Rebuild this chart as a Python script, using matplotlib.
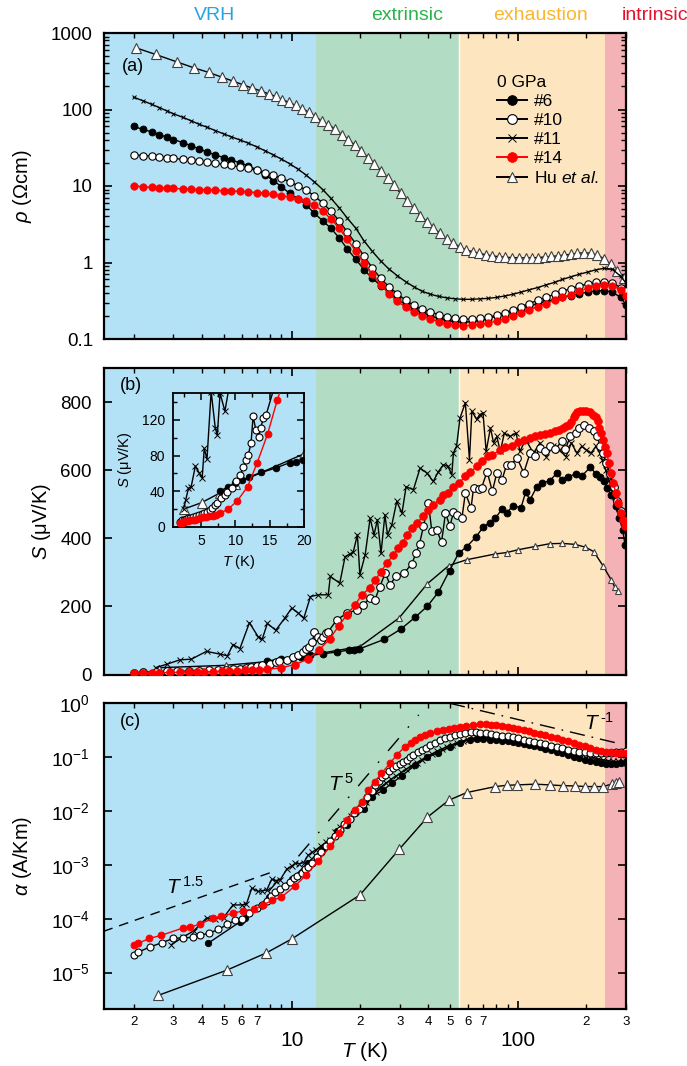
"""
Thermoelectric transport of the samples at 0 GPa: rho, S and alpha vs T
"""

import matplotlib
import matplotlib.pyplot as plt
from matplotlib.lines import Line2D
from matplotlib.ticker import (FixedFormatter, FixedLocator, FuncFormatter,
                               LogLocator, MultipleLocator, NullFormatter,
                               NullLocator)

matplotlib.use("Agg")

plt.rcParams['font.family'] = ['Liberation Sans', 'DejaVu Sans']
plt.rcParams['mathtext.fontset'] = 'custom'
plt.rcParams['mathtext.rm'] = 'Liberation Sans'
plt.rcParams['mathtext.it'] = 'Liberation Sans:italic'
plt.rcParams['mathtext.bf'] = 'Liberation Sans:bold'

# --------------------------------------------------
# Regions
# --------------------------------------------------
region_names = ['VRH', 'extrinsic', 'exhaustion', 'intrinsic']
region_edges = [1.48, 12.8, 55, 242, 300]
region_fill = ['#b3e1f6', '#b2ddc4', '#fde6bf', '#f5b2b6']
region_text = ['#22a5e2', '#2bb24c', '#fbb62e', '#e8112d']
region_label_x = [215, 407, 540, 655]

# --------------------------------------------------
# (a) resistivity
# --------------------------------------------------
Ta = [2.0, 2.2, 2.4, 2.6, 2.8, 3.0, 3.3, 3.6, 3.9, 4.2,
      4.6, 5.0, 5.4, 5.9, 6.4, 7.0, 7.6, 8.3, 9.0, 9.8,
      10.7, 11.6, 12.6, 13.7, 14.9, 16.2, 17.6, 19.2, 20.9, 22.7,
      24.7, 26.9, 29.3, 31.9, 34.7, 37.7, 41.0, 44.6, 48.5, 52.8,
      57.4, 62.4, 67.9, 73.9, 80.4, 87.4, 95.1, 103, 112, 122,
      133, 145, 157, 171, 186, 203, 220, 240, 261, 284,
      300]
rho_6 = [60, 55, 51, 47, 43.5, 40.5, 37, 33.5, 30.5, 28,
         25.5, 23.5, 22, 20, 18.5, 16.3, 14, 11.8, 9.8, 8.0,
         6.8, 5.6, 4.4, 3.5, 2.8, 2.1, 1.5, 1.1, 0.8, 0.62,
         0.5, 0.41, 0.33, 0.28, 0.245, 0.22, 0.2, 0.185, 0.175, 0.168,
         0.166, 0.168, 0.175, 0.185, 0.198, 0.213, 0.23, 0.25, 0.27, 0.29,
         0.31, 0.33, 0.35, 0.37, 0.39, 0.41, 0.425, 0.43, 0.41, 0.35,
         0.28]
rho_10 = [25.5, 25, 24.5, 24, 23.5, 23, 22.3, 21.6, 21, 20.4,
          19.8, 19.2, 18.6, 17.8, 17, 16, 15, 13.8, 12.6, 11.4,
          10, 8.8, 7.4, 6, 4.7, 3.5, 2.5, 1.75, 1.2, 0.85,
          0.62, 0.48, 0.39, 0.32, 0.275, 0.245, 0.225, 0.208, 0.195, 0.186,
          0.182, 0.182, 0.186, 0.193, 0.205, 0.22, 0.24, 0.265, 0.29, 0.32,
          0.35, 0.385, 0.42, 0.455, 0.49, 0.525, 0.55, 0.56, 0.54, 0.47,
          0.42]
rho_11 = [145, 130, 117, 106, 96, 88, 79, 71, 64, 59,
          53, 48, 44, 40, 36.5, 32.5, 29, 25.5, 22.5, 19.5,
          16.5, 13.8, 11.3, 9, 6.9, 5.2, 3.8, 2.8, 1.9, 1.4,
          1.05, 0.82, 0.67, 0.56, 0.48, 0.42, 0.385, 0.36, 0.345, 0.335,
          0.33, 0.33, 0.335, 0.34, 0.35, 0.365, 0.385, 0.41, 0.44, 0.47,
          0.51, 0.55, 0.6, 0.65, 0.7, 0.75, 0.8, 0.84, 0.82, 0.66,
          0.54]
rho_14 = [10, 9.8, 9.6, 9.5, 9.4, 9.3, 9.2, 9.1, 9.0, 8.9,
          8.8, 8.7, 8.6, 8.5, 8.4, 8.2, 8.0, 7.8, 7.5, 7.2,
          6.8, 6.3, 5.6, 4.7, 3.7, 2.8, 2.0, 1.4, 0.98, 0.7,
          0.51, 0.39, 0.31, 0.26, 0.225, 0.2, 0.182, 0.168, 0.157, 0.152,
          0.15, 0.151, 0.155, 0.162, 0.172, 0.185, 0.2, 0.22, 0.24, 0.265,
          0.29, 0.32, 0.35, 0.38, 0.42, 0.46, 0.49, 0.51, 0.5, 0.44,
          0.37]
Ta_hu = [2.05, 2.5, 3.1, 3.7, 4.3, 4.9, 5.5, 6.1, 6.7, 7.3,
         7.9, 8.5, 9.1, 9.7, 10.4, 11.1, 11.9, 12.7, 13.6, 14.5,
         15.5, 16.6, 17.8, 19.0, 20.3, 21.7, 23.2, 24.8, 26.5, 28.3,
         30.3, 32.4, 34.6, 37.0, 39.6, 42.3, 45.2, 48.3, 51.6, 55.2,
         59.0, 63.1, 67.4, 72.1, 77.0, 82.3, 88.0, 94.1, 101, 108,
         115, 123, 131, 140, 150, 160, 171, 183, 196, 210,
         224, 240, 257, 275, 294]
rho_hu = [640, 525, 420, 350, 305, 265, 235, 210, 190, 175,
          160, 148, 135, 124, 113, 103, 92, 81, 70, 63,
          56, 47, 40, 34.5, 29, 23.5, 19.5, 15.8, 12.8, 10.2,
          8.0, 6.3, 5.1, 4.1, 3.4, 2.85, 2.4, 2.05, 1.82, 1.6,
          1.46, 1.38, 1.32, 1.26, 1.22, 1.19, 1.17, 1.16, 1.15, 1.15,
          1.15, 1.16, 1.18, 1.2, 1.22, 1.25, 1.28, 1.32, 1.34, 1.32,
          1.25, 1.12, 0.95, 0.77, 0.62]

# --------------------------------------------------
# (b) Seebeck coefficient
# --------------------------------------------------
Tb_6 = [7.8, 9.0, 10.0, 11.0, 12.0, 13.8, 15.9, 17.9, 18.8, 19.9,
        25.6, 30.3, 35.1, 39.8, 44.5, 49.8, 54.6, 59.3, 65, 70,
        74.8, 79.4, 85, 89, 95, 103, 108, 113, 121, 128,
        138, 149, 156, 167, 180, 192, 209, 220, 231, 241,
        247, 258, 270, 280, 290, 297]
S_6 = [40, 45, 49, 52, 56, 61, 66, 72, 73, 75,
       103, 133, 168, 201, 242, 305, 356, 375, 403, 432,
       446, 459, 486, 474, 496, 489, 535, 513, 551, 562,
       569, 592, 572, 580, 590, 584, 609, 590, 580, 567,
       548, 528, 494, 459, 425, 381]
Tb_10 = [2.0, 2.2, 2.5, 2.8, 3.1, 3.5, 3.9, 4.3, 4.7, 5.1,
         5.5, 5.9, 6.3, 6.6, 7.0, 7.4, 8.0, 8.5, 8.8, 9.5,
         10.1, 10.7, 11.2, 11.6, 11.9, 12.3, 12.6, 13.0, 13.4, 13.7,
         14.1, 14.5, 15.8, 17.5, 19.5, 20.7, 22.1, 23.3, 24.5, 25.9,
         27.2, 28.9, 31.4, 33.9, 35.4, 36.7, 38.2, 40.2, 41.6, 43.7,
         45.9, 47.8, 50, 51.8, 53.5, 56.5, 58.5, 62, 63.6, 67,
         69, 73, 77, 80.6, 85, 89, 93, 99, 106, 113,
         119, 125, 132, 138, 146, 156, 162, 170, 180, 186,
         195, 205, 216, 223, 231, 238, 245, 255, 265, 275,
         285, 295]
S_10 = [5, 7, 8, 9, 9.5, 10, 11, 12, 13, 14,
        15.5, 17, 19, 21, 24, 27, 32, 36, 39, 44,
        51, 58, 67, 75, 81, 94, 124, 109, 101, 111,
        122, 126, 160, 180, 190, 204, 224, 219, 258, 298,
        263, 290, 298, 325, 356, 384, 435, 503, 420, 425,
        388, 474, 435, 476, 469, 459, 533, 489, 548, 545,
        548, 596, 538, 592, 572, 616, 616, 636, 592, 650,
        641, 665, 656, 671, 661, 685, 661, 700, 709, 725,
        734, 724, 715, 700, 670, 650, 620, 590, 550, 510,
        480, 455]
Tb_11 = [2.5, 2.8, 3.2, 3.6, 4.2, 4.8, 5.2, 5.5, 5.9, 6.5,
         7.1, 7.4, 7.8, 8.5, 9.3, 10.0, 10.7, 11.3, 12.1, 13.1,
         14.5, 14.8, 16.3, 17.2, 18.1, 18.7, 19.5, 20.0, 21.1, 22.2,
         23.1, 23.9, 24.8, 25.8, 26.5, 27.7, 29.1, 30.7, 32.0, 34.5,
         36.9, 39.5, 42.2, 44.5, 46.8, 49.0, 51.0, 51.8, 53.5, 55.4,
         58.5, 61.0, 62.5, 65.7, 67.6, 70.0, 72.3, 75.5, 78.0, 80.6,
         83.5, 87, 92, 98, 102, 108, 117, 125, 133, 143,
         152, 163, 172, 182, 191, 200, 210, 221, 230, 236,
         244, 252, 260, 270, 280, 290, 298]
S_11 = [20, 30, 43, 45, 68, 60, 55, 88, 76, 152,
        111, 103, 150, 130, 165, 195, 180, 165, 229, 234,
        234, 288, 268, 346, 354, 360, 410, 293, 351, 459,
        410, 454, 356, 469, 410, 440, 508, 474, 551, 543,
        606, 592, 567, 596, 616, 611, 587, 651, 670, 753,
        798, 631, 773, 749, 763, 768, 655, 724, 680, 699,
        655, 709, 699, 709, 655, 690, 650, 680, 640, 670,
        660, 640, 680, 650, 670, 660, 650, 670, 650, 630,
        600, 570, 540, 510, 490, 470, 480]
Tb_14 = [2.0, 2.2, 2.4, 2.6, 2.9, 3.2, 3.5, 3.8, 4.1, 4.5,
         4.9, 5.3, 5.7, 6.2, 6.7, 7.2, 7.8, 9.0, 10.3, 11.8,
         13.2, 14.7, 16.1, 17.5, 19.0, 20.4, 22.1, 23.4, 24.8, 26.3,
         28.1, 29.6, 30.9, 32.3, 33.9, 35.7, 38.2, 40.2, 42.2, 45.0,
         46.7, 49.0, 51.8, 55.0, 58.5, 61.5, 65.7, 69.0, 74.0, 77.0,
         83.0, 88.0, 94.0, 100, 106, 113, 119, 125, 132, 138,
         145, 152, 158, 163, 168, 172, 176, 179, 183, 187,
         193, 200, 207, 214, 220, 225, 229, 232, 237, 242,
         247, 252, 258, 264, 270, 277, 284, 290, 296]
S_14 = [4, 4.5, 5, 5.5, 6, 6.5, 7, 7.5, 8, 8.5,
        9.5, 10.5, 11, 12, 12.5, 13.5, 15, 20, 29, 45,
        72, 104, 142, 175, 204, 234, 254, 278, 302, 327,
        351, 371, 386, 410, 430, 446, 464, 484, 499, 513,
        528, 533, 551, 563, 582, 594, 611, 628, 641, 645,
        658, 667, 672, 682, 688, 695, 699, 703, 706, 710,
        715, 719, 724, 729, 733, 740, 755, 763, 770, 773,
        774, 773, 770, 763, 755, 744, 725, 709, 688, 668,
        650, 620, 592, 562, 533, 503, 474, 455, 435]
Tb_hu = [2.6, 5.1, 7.8, 10.0, 20.0, 29.8, 39.8, 49.5, 59.3, 79.4,
         89, 99.6, 119, 138, 157, 179, 198, 216, 237, 258,
         267, 277]
S_hu = [20, 27, 38, 48, 82, 166, 267, 320, 337, 354,
        358, 366, 376, 384, 385, 382, 374, 361, 320, 278,
        258, 244]

# --------------------------------------------------
# (c) thermoelectric conductivity
# --------------------------------------------------
Tc_6 = [4.27, 5.9, 6.05, 6.2, 7.9, 10.0, 11.8, 13.7, 15.8, 17.5,
        19.1, 20.8, 22.6, 25.4, 27.7, 30.7, 35.2, 39.8, 44.5, 50,
        55.4, 61.5, 66, 70, 75, 80, 85, 90, 95, 100,
        106, 112, 118, 125, 132, 140, 148, 157, 166, 176,
        186, 197, 208, 220, 232, 245, 258, 272, 286, 300]
a_6 = [3.5e-5, 8.7e-5, 9.5e-5, 1.03e-4, 2.5e-4, 5.4e-4, 1.1e-3, 2.0e-3, 4.2e-3, 5.5e-3,
       9.1e-3, 1.07e-2, 1.85e-2, 2.45e-2, 3.3e-2, 4.5e-2, 7.16e-2, 0.1, 0.121, 0.157,
       0.186, 0.21, 0.215, 0.215, 0.212, 0.208, 0.203, 0.198, 0.192, 0.186,
       0.178, 0.17, 0.162, 0.153, 0.144, 0.135, 0.126, 0.117, 0.109, 0.102,
       0.095, 0.089, 0.084, 0.08, 0.077, 0.076, 0.076, 0.076, 0.077, 0.078]
Tc_10 = [2.0, 2.1, 2.37, 2.68, 3.0, 3.32, 3.65, 3.95, 4.32, 4.74,
         5.19, 5.6, 6.0, 6.5, 7.0, 7.4, 7.75, 8.1, 8.44, 8.9,
         9.34, 9.8, 10.2, 10.6, 11.1, 11.5, 11.8, 12.3, 12.9, 13.5,
         14.1, 14.8, 15.5, 16.3, 17.1, 18.0, 18.9, 19.8, 20.7, 21.6,
         22.6, 23.4, 24.2, 25.0, 25.8, 26.9, 28.1, 29.0, 30.0, 31.1,
         32.3, 33.4, 34.5, 36.0, 37.6, 39.2, 41.0, 43.0, 45.3, 47.6,
         50.0, 52.6, 55.4, 58.5, 61.7, 65, 68, 72, 76, 80,
         85, 90, 95, 100, 106, 112, 118, 125, 132, 140,
         148, 157, 166, 176, 186, 197, 208, 220, 232, 245,
         258, 272, 286, 300]
a_10 = [2.1e-5, 2.4e-5, 3.0e-5, 3.6e-5, 4.3e-5, 4.4e-5, 4.5e-5, 4.9e-5, 5.4e-5, 6.3e-5,
        7.8e-5, 9.3e-5, 1.0e-4, 1.3e-4, 1.58e-4, 1.8e-4, 2.1e-4, 2.6e-4, 3.1e-4, 3.6e-4,
        4.1e-4, 4.8e-4, 5.6e-4, 6.3e-4, 7.2e-4, 8.3e-4, 9.3e-4, 1.1e-3, 1.4e-3, 1.75e-3,
        2.2e-3, 2.8e-3, 3.5e-3, 4.5e-3, 5.7e-3, 7.2e-3, 9.0e-3, 1.1e-2, 1.35e-2, 1.8e-2,
        2.4e-2, 3.0e-2, 3.6e-2, 4.2e-2, 4.7e-2, 5.5e-2, 6.3e-2, 6.9e-2, 7.5e-2, 8.2e-2,
        9.0e-2, 0.1, 0.11, 0.122, 0.136, 0.151, 0.166, 0.185, 0.205, 0.222,
        0.238, 0.255, 0.27, 0.282, 0.29, 0.29, 0.285, 0.278, 0.27, 0.262,
        0.252, 0.242, 0.232, 0.222, 0.212, 0.202, 0.192, 0.182, 0.172, 0.162,
        0.153, 0.145, 0.138, 0.132, 0.127, 0.123, 0.12, 0.118, 0.117, 0.118,
        0.12, 0.122, 0.125, 0.128]
Tc_11 = [2.94, 3.3, 3.7, 4.2, 4.6, 5.0, 5.5, 6.0, 6.3, 6.66,
         7.1, 7.4, 7.75, 8.16, 8.5, 8.9, 9.5, 10.0, 10.35, 10.8,
         11.3, 11.8, 12.26, 12.8, 13.4, 14.1, 14.8, 15.6, 16.4, 17.3,
         18.2, 19.2, 20.2, 21.3, 22.4, 23.6, 24.8, 26.1, 27.5, 29.0,
         30.5, 32.1, 33.8, 35.6, 37.5, 39.5, 41.6, 43.8, 46.1, 48.5,
         51, 54, 57, 60, 63, 66, 70, 74, 78, 82,
         86, 90, 95, 100, 105, 110, 116, 122, 128, 135,
         142, 150, 158, 166, 175, 184, 194, 204, 215, 226,
         238, 250, 263, 277, 291, 300]
a_11 = [3.3e-5, 4.5e-5, 6.0e-5, 1.03e-4, 1.0e-4, 1.05e-4, 1.8e-4, 1.8e-4, 1.85e-4, 3.7e-4,
        3.2e-4, 3.3e-4, 3.4e-4, 5.4e-4, 5.1e-4, 5.3e-4, 8.3e-4, 9.5e-4, 1.07e-3, 1.05e-3,
        1.1e-3, 1.5e-3, 1.7e-3, 1.9e-3, 2.2e-3, 2.6e-3, 2.9e-3, 4.0e-3, 5.1e-3, 6.5e-3,
        8.0e-3, 9.8e-3, 1.2e-2, 1.5e-2, 1.9e-2, 2.3e-2, 2.8e-2, 3.3e-2, 3.9e-2, 4.5e-2,
        5.2e-2, 6.0e-2, 6.9e-2, 7.9e-2, 9.0e-2, 0.102, 0.115, 0.128, 0.142, 0.156,
        0.17, 0.185, 0.2, 0.212, 0.222, 0.228, 0.232, 0.232, 0.23, 0.226,
        0.222, 0.217, 0.21, 0.204, 0.197, 0.19, 0.182, 0.175, 0.168, 0.16,
        0.153, 0.146, 0.139, 0.132, 0.125, 0.118, 0.111, 0.104, 0.098, 0.093,
        0.089, 0.086, 0.084, 0.083, 0.083, 0.084]
Tc_14 = [2.0, 2.1, 2.35, 2.65, 3.3, 3.55, 3.95, 4.5, 4.85, 5.5,
         6.1, 6.8, 7.5, 8.2, 9.0, 10.3, 11.6, 13.1, 14.8, 16.1,
         17.5, 19.1, 20.4, 21.8, 23.3, 24.9, 27.2, 29.1, 31.7, 33.5,
         35.2, 37.0, 38.9, 41.0, 43.8, 46.5, 49.3, 52.0, 55.4, 59.0,
         63.5, 68, 72, 76, 80, 85, 90, 95, 100, 106,
         112, 118, 125, 132, 140, 148, 157, 166, 176, 186,
         197, 208, 220, 232, 245, 258, 272, 286, 300]
a_14 = [3.3e-5, 3.5e-5, 4.3e-5, 4.9e-5, 6.7e-5, 6.9e-5, 8.0e-5, 1.02e-4, 1.1e-4, 1.26e-4,
        1.4e-4, 1.5e-4, 1.8e-4, 2.2e-4, 2.5e-4, 4.0e-4, 6.5e-4, 1.2e-3, 2.2e-3, 3.9e-3,
        6.8e-3, 1.05e-2, 1.5e-2, 2.46e-2, 3.5e-2, 5.0e-2, 7.7e-2, 0.11, 0.157, 0.185,
        0.21, 0.235, 0.26, 0.28, 0.3, 0.32, 0.34, 0.355, 0.37, 0.385,
        0.4, 0.405, 0.405, 0.4, 0.39, 0.375, 0.36, 0.345, 0.33, 0.315,
        0.3, 0.285, 0.27, 0.255, 0.24, 0.225, 0.21, 0.197, 0.183, 0.17,
        0.158, 0.147, 0.138, 0.131, 0.126, 0.122, 0.12, 0.12, 0.12]
Tc_hu = [2.57, 5.15, 7.7, 10.0, 20.0, 29.8, 39.8, 49.4, 59.3, 79.4,
         89, 99, 119, 138, 158, 179, 198, 216, 238, 259,
         270, 279]
a_hu = [3.76e-6, 1.1e-5, 2.3e-5, 4.2e-5, 2.75e-4, 1.93e-3, 7.7e-3, 1.58e-2, 2.2e-2, 2.84e-2,
        3.0e-2, 3.05e-2, 3.15e-2, 3.05e-2, 2.95e-2, 2.92e-2, 2.84e-2, 2.84e-2, 2.84e-2, 3.16e-2,
        3.3e-2, 3.5e-2]

# power-law guides (end points)
t15_T, t15_a = [1.47, 8.3], [5.8e-5, 7.5e-4]
t5_T, t5_a = [7.9, 36.4], [3.2e-4, 0.61]
tm1_T, tm1_a = [50, 270], [1.0, 0.185]

# tick labels on the shared T axis
minor_T = [2, 3, 4, 5, 6, 7, 8, 9, 20, 30, 40, 50, 60, 70, 80, 90, 200, 300]
minor_lbl = ['2', '3', '4', '5', '6', '7', '', '',
             '2', '3', '4', '5', '6', '7', '', '', '2', '3']

sample_labels = ['#6', '#10', '#11', '#14', r'Hu $\mathit{et\ al}$.']

# --------------------------------------------------
# Styles
# --------------------------------------------------
ST6 = dict(color='black', marker='o', mfc='black', mec='black', mew=0.6)
ST10 = dict(color='black', marker='o', mfc='white', mec='black', mew=0.8)
ST11 = dict(color='black', marker='x', mfc='none', mec='black', mew=0.7)
ST14 = dict(color='red', marker='o', mfc='red', mec='red', mew=0.6)
STHU = dict(color='black', marker='^', mfc='white', mec='#404040', mew=0.8)

YTICK_SIZE = 13.5


def shade(ax):
    for lo, hi, c in zip(region_edges[:-1], region_edges[1:], region_fill):
        ax.axvspan(lo, hi, color=c, lw=0, zorder=0)
    ax.axvline(region_edges[2], color='white', lw=1.0, zorder=0.5)


def setup_x(ax, show_labels):
    ax.set_xscale('log')
    ax.set_xlim(region_edges[0], region_edges[-1])
    ax.xaxis.set_major_locator(FixedLocator([10, 100]))
    ax.xaxis.set_minor_locator(FixedLocator(minor_T))
    if show_labels:
        ax.xaxis.set_major_formatter(FixedFormatter(['10', '100']))
        ax.xaxis.set_minor_formatter(FixedFormatter(minor_lbl))
        ax.tick_params(axis='x', which='major', labelsize=15, pad=16)
        ax.tick_params(axis='x', which='minor', labelsize=9.5, pad=5)
    else:
        ax.tick_params(axis='x', which='both', labelbottom=False)
    ax.tick_params(which='both', direction='in', top=True, right=True)
    ax.tick_params(which='major', length=6, width=1.2)
    ax.tick_params(which='minor', length=3.5, width=1.0)
    ax.tick_params(axis='y', labelsize=YTICK_SIZE)
    for sp in ax.spines.values():
        sp.set_linewidth(1.6)


fig = plt.figure(figsize=(6.87, 10.66), dpi=100)
L, W = 104 / 687, 522 / 687
ax_a = fig.add_axes([L, 1 - 339 / 1066, W, 306 / 1066])
ax_b = fig.add_axes([L, 1 - 674.5 / 1066, W, 306.5 / 1066])
ax_c = fig.add_axes([L, 1 - 1009 / 1066, W, 305.7 / 1066])

for name, x, col in zip(region_names, region_label_x, region_text):
    fig.text(x / 687, 1 - 15 / 1066, name, color=col, fontsize=14,
             ha='center', va='center')

# ---------------- (a) ----------------
shade(ax_a)
ax_a.plot(Ta_hu, rho_hu, lw=1.0, ms=6.5, **STHU, zorder=2)
ax_a.plot(Ta, rho_11, lw=1.0, ms=3.5, **ST11, zorder=3)
ax_a.plot(Ta, rho_6, lw=1.0, ms=5.0, **ST6, zorder=4)
ax_a.plot(Ta, rho_10, lw=1.0, ms=5.3, **ST10, zorder=5)
ax_a.plot(Ta, rho_14, lw=1.0, ms=5.3, **ST14, zorder=6)
ax_a.set_yscale('log')
ax_a.set_ylim(0.1, 1000)
setup_x(ax_a, False)
ax_a.yaxis.set_major_locator(LogLocator(base=10, numticks=10))
ax_a.yaxis.set_major_formatter(FuncFormatter(lambda v, p: f'{v:g}'))
ax_a.yaxis.set_minor_formatter(NullFormatter())
ax_a.tick_params(axis='y', pad=8)
ax_a.set_ylabel(r'$\rho$ ($\Omega$cm)', fontsize=14.5)
ax_a.yaxis.set_label_coords(-0.135, 0.5)
ax_a.text(0.034, 0.89, '(a)', transform=ax_a.transAxes, fontsize=13,
          va='center')

handles = [Line2D([], [], lw=1.4, ms=7, **ST6),
           Line2D([], [], lw=1.4, ms=7, **ST10),
           Line2D([], [], lw=1.4, ms=6, **ST11),
           Line2D([], [], lw=1.4, ms=7, **ST14),
           Line2D([], [], lw=1.4, ms=7.5, **STHU)]
ax_a.legend(handles, sample_labels, title='0 GPa', loc='upper left',
            bbox_to_anchor=(0.752, 0.862), frameon=False, fontsize=12.5,
            title_fontsize=12.5, handlelength=1.75, handletextpad=0.4,
            labelspacing=0.22, borderpad=0, borderaxespad=0,
            alignment='left')

# ---------------- (b) ----------------
shade(ax_b)
ax_b.plot(Tb_hu, S_hu, lw=1.0, ms=4.5, **STHU, zorder=2)
ax_b.plot(Tb_6, S_6, lw=1.0, ms=5.0, **ST6, zorder=3)
ax_b.plot(Tb_11, S_11, lw=1.0, ms=4.0, **ST11, zorder=4)
ax_b.plot(Tb_10, S_10, lw=1.0, ms=5.5, **ST10, zorder=5)
ax_b.plot(Tb_14, S_14, lw=1.0, ms=5.5, **ST14, zorder=6)
ax_b.set_ylim(0, 900)
setup_x(ax_b, False)
ax_b.yaxis.set_major_locator(MultipleLocator(200))
ax_b.yaxis.set_minor_locator(NullLocator())
ax_b.tick_params(axis='y', pad=9)
ax_b.set_ylabel(r'$S$ (μV/K)', fontsize=14.5)
ax_b.yaxis.set_label_coords(-0.098, 0.5)
ax_b.text(0.03, 0.942, '(b)', transform=ax_b.transAxes, fontsize=13,
          va='center')

# inset
axin = fig.add_axes([173.3 / 687, 1 - 526.7 / 1066, 130.7 / 687, 133.4 / 1066])
axin.patch.set_alpha(0)
axin.plot(Tb_hu, S_hu, lw=1.0, ms=6.5, **STHU, zorder=2)
axin.plot(Tb_6, S_6, lw=1.0, ms=4.8, **ST6, zorder=3)
axin.plot(Tb_11, S_11, lw=1.0, ms=4.5, **ST11, zorder=4)
axin.plot(Tb_10, S_10, lw=1.0, ms=5.0, **ST10, zorder=5)
axin.plot(Tb_14, S_14, lw=1.0, ms=5.0, **ST14, zorder=6)
axin.set_xlim(1, 20)
axin.set_ylim(0, 150)
axin.xaxis.set_major_locator(MultipleLocator(5))
axin.xaxis.set_minor_locator(MultipleLocator(2.5))
axin.yaxis.set_major_locator(MultipleLocator(40))
axin.yaxis.set_minor_locator(MultipleLocator(20))
axin.tick_params(which='both', direction='in', top=True, right=True,
                 labelsize=10)
axin.tick_params(which='major', length=5, width=1.1)
axin.tick_params(which='minor', length=3, width=1.0)
axin.tick_params(axis='y', pad=6)
axin.tick_params(axis='x', pad=5)
for sp in axin.spines.values():
    sp.set_linewidth(1.3)
axin.set_ylabel(r'$S$ (μV/K)', fontsize=10.5)
axin.yaxis.set_label_coords(-0.3, 0.5)
axin.set_xlabel(r'$T$ (K)', fontsize=10.5)
axin.xaxis.set_label_coords(0.5, -0.2)

# ---------------- (c) ----------------
shade(ax_c)
ax_c.plot(Tc_hu, a_hu, lw=1.0, ms=7, **STHU, zorder=2)
ax_c.plot(Tc_11, a_11, lw=1.0, ms=4.0, **ST11, zorder=3)
ax_c.plot(Tc_6, a_6, lw=1.0, ms=4.6, **ST6, zorder=4)
ax_c.plot(Tc_10, a_10, lw=1.0, ms=5.0, **ST10, zorder=5)
ax_c.plot(Tc_14, a_14, lw=1.0, ms=5.0, **ST14, zorder=6)
ax_c.plot(t15_T, t15_a, color='black', lw=1.0, dashes=(7, 5), zorder=7)
ax_c.plot(t5_T, t5_a, color='black', lw=1.0, dashes=(12, 10, 1.2, 10),
          zorder=7)
ax_c.plot(tm1_T, tm1_a, color='black', lw=1.0, dashes=(11, 5, 1.2, 5),
          zorder=7)
ax_c.text(2.78, 2.9e-4, r'$T^{\,1.5}$', fontsize=15, va='baseline')
ax_c.text(14.4, 0.024, r'$T^{\,5}$', fontsize=15, va='baseline')
ax_c.text(195, 0.32, r'$T^{\,\text{-}1}$', fontsize=15, va='baseline')
ax_c.set_yscale('log')
ax_c.set_ylim(2.1e-6, 1)
setup_x(ax_c, True)
ax_c.yaxis.set_major_locator(LogLocator(base=10, numticks=10))
ax_c.yaxis.set_minor_locator(NullLocator())
ax_c.tick_params(axis='y', pad=10, labelsize=YTICK_SIZE + 0.5)
ax_c.set_ylabel(r'$\alpha$ (A/Km)', fontsize=14.5)
ax_c.yaxis.set_label_coords(-0.135, 0.5)
ax_c.set_xlabel(r'$T$ (K)', fontsize=15)
ax_c.xaxis.set_label_coords(0.5, -0.1)
ax_c.text(0.031, 0.94, '(c)', transform=ax_c.transAxes, fontsize=13,
          va='center')

fig.savefig('out.png', dpi=100)
plt.close('all')
